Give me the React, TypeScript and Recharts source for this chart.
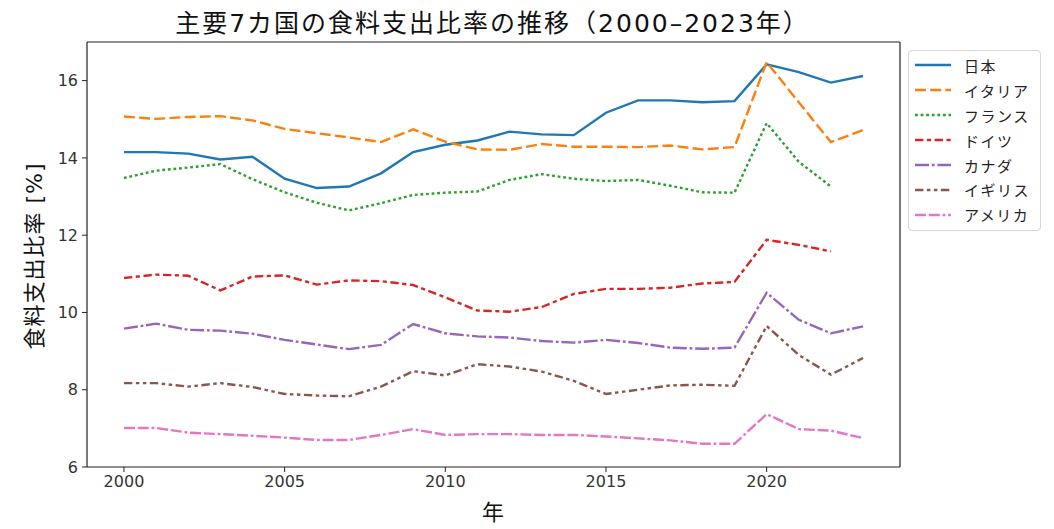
import { Line, LineChart, ReferenceLine, XAxis, YAxis } from 'recharts';

const years = [
  2000, 2001, 2002, 2003, 2004, 2005, 2006, 2007, 2008, 2009, 2010, 2011,
  2012, 2013, 2014, 2015, 2016, 2017, 2018, 2019, 2020, 2021, 2022, 2023,
];

const japan = [
  14.15, 14.15, 14.11, 13.96, 14.03, 13.46, 13.22, 13.26, 13.6, 14.15, 14.34, 14.45,
  14.68, 14.61, 14.59, 15.17, 15.49, 15.49, 15.44, 15.47, 16.42, 16.22, 15.95, 16.12,
];
const italy = [
  15.07, 15.01, 15.06, 15.08, 14.97, 14.75, 14.64, 14.53, 14.41, 14.74, 14.42, 14.22,
  14.21, 14.36, 14.29, 14.29, 14.28, 14.32, 14.22, 14.28, 16.48, 15.44, 14.41, 14.72,
];
const france = [
  13.48, 13.67, 13.75, 13.84, 13.45, 13.11, 12.84, 12.64, 12.83, 13.04, 13.1, 13.13,
  13.43, 13.58, 13.46, 13.4, 13.43, 13.28, 13.11, 13.1, 14.9, 13.9, 13.26, null,
];
const germany = [
  10.89, 10.98, 10.95, 10.57, 10.93, 10.96, 10.72, 10.83, 10.81, 10.71, 10.39, 10.05,
  10.02, 10.14, 10.48, 10.61, 10.61, 10.64, 10.75, 10.79, 11.88, 11.75, 11.58, null,
];
const canada = [
  9.58, 9.71, 9.55, 9.53, 9.45, 9.29, 9.17, 9.05, 9.16, 9.7, 9.46, 9.38,
  9.35, 9.26, 9.22, 9.29, 9.21, 9.09, 9.06, 9.09, 10.51, 9.81, 9.46, 9.64,
];
const uk = [
  8.17, 8.17, 8.08, 8.17, 8.07, 7.89, 7.85, 7.83, 8.08, 8.48, 8.37, 8.66,
  8.6, 8.47, 8.23, 7.89, 8.0, 8.11, 8.13, 8.1, 9.65, 8.9, 8.39, 8.82,
];
const usa = [
  7.01, 7.01, 6.89, 6.85, 6.81, 6.76, 6.7, 6.7, 6.83, 6.98, 6.83, 6.85,
  6.85, 6.83, 6.83, 6.79, 6.74, 6.69, 6.6, 6.6, 7.37, 6.98, 6.94, 6.75,
];

const xTicks = [2000, 2005, 2010, 2015, 2020];
const yTicks = [6, 8, 10, 12, 14, 16];
const xDomain = [1998.85, 2024.15];
const yDomain = [6, 17];

// seaborn-like dash patterns, scaled to pixels
const series = [
  { key: 'japan', name: '日本', values: japan, color: '#1f77b4', dash: undefined },
  { key: 'italy', name: 'イタリア', values: italy, color: '#ff7f0e', dash: '11 4.2' },
  { key: 'france', name: 'フランス', values: france, color: '#2ca02c', dash: '2.8 2.8' },
  { key: 'germany', name: 'ドイツ', values: germany, color: '#d62728', dash: '8.4 3.5 4.2 3.5' },
  { key: 'canada', name: 'カナダ', values: canada, color: '#9467bd', dash: '14 2.8 2.8 2.8' },
  { key: 'uk', name: 'イギリス', values: uk, color: '#8c564b', dash: '8.4 3.5 3.5 3.5 3.5 3.5' },
  { key: 'usa', name: 'アメリカ', values: usa, color: '#e377c2', dash: '11 2.8 11 2.8 2.8 2.8' },
];

const data = years.map((year, i) => {
  const row: Record<string, number | null> = { year };
  series.forEach((s) => {
    row[s.key] = s.values[i];
  });
  return row;
});

const font = '"DejaVu Sans", "Noto Sans CJK JP", sans-serif';
const tickStyle = { fontSize: 16, fill: '#333', fontFamily: font };
const spine = { stroke: '#222', strokeWidth: 1.2 };

function LegendBox() {
  return (
    <div
      style={{
        position: 'absolute',
        left: 908,
        top: 50,
        width: 133,
        height: 181,
        boxSizing: 'border-box',
        border: '1px solid #d6d6d6',
        borderRadius: 4,
        background: '#fff',
        padding: '2px 0 0 6px',
        fontFamily: font,
        fontSize: 15,
        letterSpacing: 1.5,
        color: '#222',
      }}
    >
      {series.map((s) => (
        <div key={s.key} style={{ display: 'flex', alignItems: 'center', height: 24.9 }}>
          <svg width={36} height={10} style={{ marginRight: 13 }}>
            <line
              x1={0}
              y1={5}
              x2={36}
              y2={5}
              stroke={s.color}
              strokeWidth={2.4}
              strokeDasharray={s.dash}
            />
          </svg>
          <span>{s.name}</span>
        </div>
      ))}
    </div>
  );
}

export default function App() {
  return (
    <div style={{ position: 'absolute', left: 0, top: 0, width: 1054, height: 529, background: '#fff' }}>
      <div
        style={{
          position: 'absolute',
          left: 86,
          width: 813,
          top: 3,
          textAlign: 'center',
          fontFamily: font,
          fontSize: 25,
          letterSpacing: 2,
          color: '#111',
          whiteSpace: 'nowrap',
        }}
      >
        主要7カ国の食料支出比率の推移（2000–2023年）
      </div>
      <div
        style={{
          position: 'absolute',
          left: 32,
          top: 256,
          transform: 'translate(-50%, -50%) rotate(-90deg)',
          whiteSpace: 'nowrap',
          fontFamily: font,
          fontSize: 22,
          letterSpacing: 1,
          color: '#111',
        }}
      >
        食料支出比率 [%]
      </div>
      <div
        style={{
          position: 'absolute',
          left: 493,
          top: 510,
          transform: 'translate(-50%, -50%)',
          fontFamily: font,
          fontSize: 22,
          color: '#111',
        }}
      >
        年
      </div>
      <LineChart
        width={1054}
        height={529}
        data={data}
        margin={{ top: 42, right: 154, bottom: 32, left: 27 }}
      >
        <XAxis
          dataKey="year"
          type="number"
          domain={xDomain}
          ticks={xTicks}
          allowDataOverflow
          height={30}
          tickSize={5}
          tickMargin={4}
          tick={tickStyle}
          stroke="#222"
          axisLine={spine}
        />
        <YAxis
          type="number"
          domain={yDomain}
          ticks={yTicks}
          allowDataOverflow
          width={60}
          tickSize={5}
          tickMargin={4}
          tick={tickStyle}
          stroke="#222"
          axisLine={spine}
        />
        <ReferenceLine y={yDomain[1]} {...spine} ifOverflow="visible" />
        <ReferenceLine x={xDomain[1]} {...spine} ifOverflow="visible" />
        {series.map((s) => (
          <Line
            key={s.key}
            type="linear"
            dataKey={s.key}
            name={s.name}
            stroke={s.color}
            strokeWidth={2.4}
            strokeDasharray={s.dash}
            dot={false}
            activeDot={false}
            isAnimationActive={false}
          />
        ))}
      </LineChart>
      <LegendBox />
    </div>
  );
}
